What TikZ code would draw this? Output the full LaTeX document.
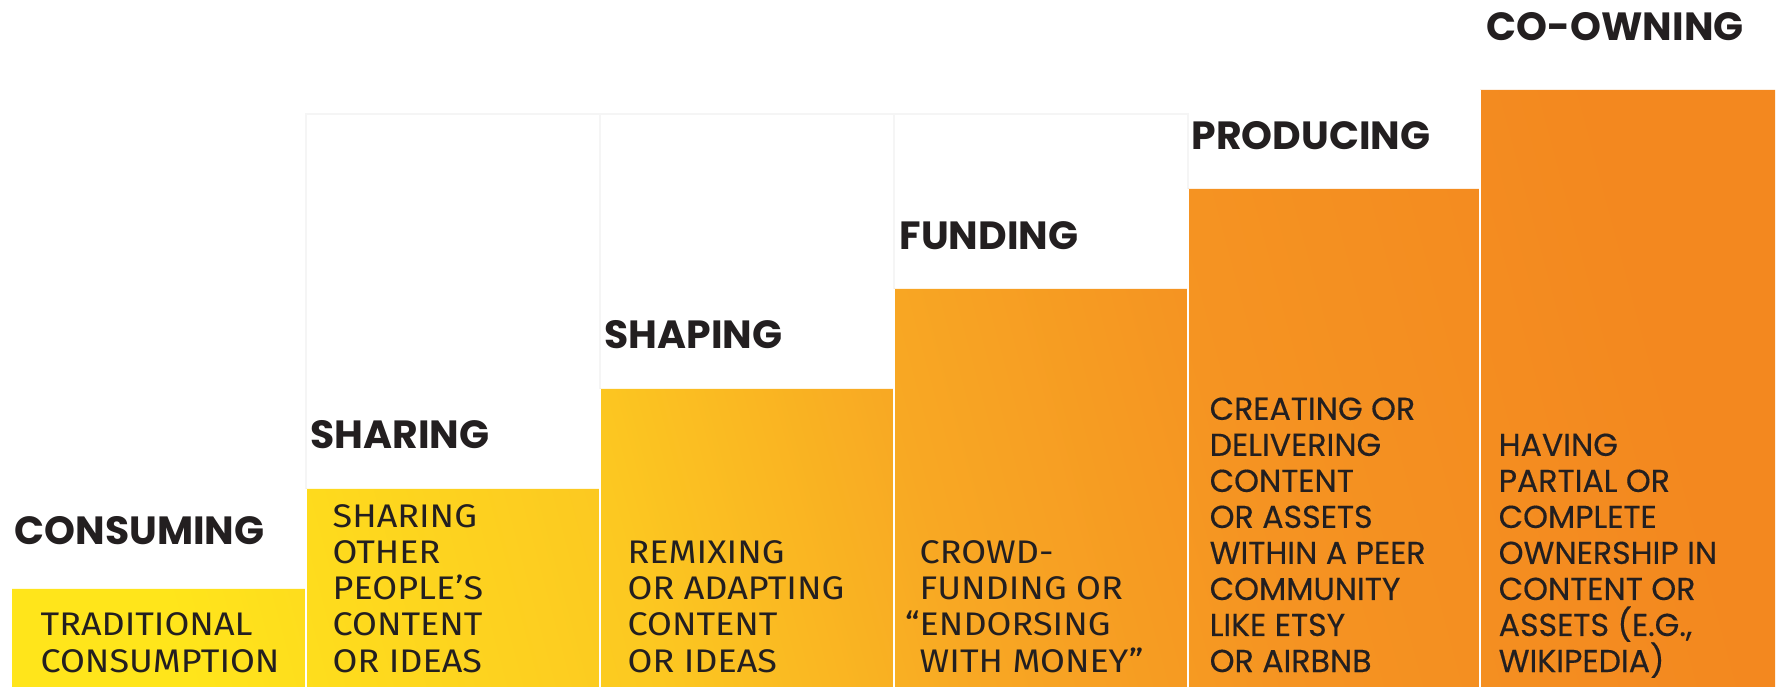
\documentclass[tikz,border=0pt]{standalone}
\usepackage{fontspec}
\setmainfont{Fira Sans}[FakeStretch=1.1]
\newfontfamily\headfont{Poppins}
\newfontfamily\wideface{Poppins}[FakeBold=0.4]
\definecolor{stepyellow}{HTML}{FFE51B}
\definecolor{stepgold}{HTML}{FCC821}
\definecolor{stepamber}{HTML}{F8A823}
\definecolor{steporange}{HTML}{F59422}
\definecolor{stepdeep}{HTML}{F3881F}
\definecolor{ink}{HTML}{231F20}
\pgfdeclarehorizontalshading{stairshade}{100bp}{color(0bp)=(stepyellow); color(25bp)=(stepyellow);
  color(40bp)=(stepgold); color(50bp)=(stepamber); color(60bp)=(steporange); color(75bp)=(stepdeep);
  color(100bp)=(stepdeep)}
\begin{document}
\begin{tikzpicture}[x=0.1mm,y=-0.1mm,
    title/.style={anchor=base west,inner sep=0,text=ink,font=\headfont\bfseries\fontsize{11.2}{12}\selectfont},
    blurb/.style={anchor=base west,inner sep=0,align=left,text=ink,font=\fontsize{9.3}{10.25}\selectfont},
    wideblurb/.style={blurb,font=\wideface\fontsize{9}{10.25}\selectfont}]
  \useasboundingbox (0,0) rectangle (1779,687);
  \fill[white] (0,0) rectangle (1779,687);
  % faint frames above the steps
  \draw[black!4,line width=0.3pt] (306,489) -- (306,114) -- (1188,114) -- (1188,189);
  \draw[black!4,line width=0.3pt] (600,389) -- (600,114) (894,289) -- (894,114);
  % the staircase
  \begin{scope}
    \clip (12,589) -- (306,589) -- (306,489) -- (600,489) -- (600,389) -- (894,389)
      -- (894,289) -- (1188,289) -- (1188,189) -- (1480,189) -- (1480,90) -- (1775,90)
      -- (1775,687) -- (12,687) -- cycle;
    \shade[shading=stairshade,shading angle=15] (12,90) rectangle (1775,687);
  \end{scope}
  \draw[white,line width=0.5pt] (306,489) -- (306,687) (600,389) -- (600,687) (894,289) -- (894,687)
    (1188,189) -- (1188,687) (1480,90) -- (1480,687);
  % headings
  \node[title] (consuming) at (14,545) {CONSUMING};
  \node[title] (sharing) at (310,449) {SHARING};
  \node[title] (shaping) at (604,349) {SHAPING};
  \node[title] (funding) at (899,250) {FUNDING};
  \node[title] (producing) at (1191,150) {PRODUCING};
  \node[title] (coowning) at (1486,41) {CO-OWNING};
  % texts in the steps (base = last line)
  \node[blurb] (consumingtext) at (40,672) {TRADITIONAL\\CONSUMPTION};
  \node[blurb] (sharingtext) at (332,672) {SHARING\\OTHER\\PEOPLE’S\\CONTENT\\OR IDEAS};
  \node[blurb] (shapingtext) at (627,672) {REMIXING\\OR ADAPTING\\CONTENT\\OR IDEAS};
  \node[blurb] (fundingtext) at (919,672) {CROWD-\\FUNDING OR\\\llap{“}ENDORSING\\WITH MONEY”};
  \node[wideblurb] (producingtext) at (1209,672) {CREATING OR\\DELIVERING\\CONTENT\\OR ASSETS\\WITHIN A PEER\\COMMUNITY\\LIKE ETSY\\OR AIRBNB};
  \node[wideblurb] (coowningtext) at (1498,672) {HAVING\\PARTIAL OR\\COMPLETE\\OWNERSHIP IN\\CONTENT OR\\ASSETS (E.G.,\\WIKIPEDIA)};
\end{tikzpicture}
\end{document}
